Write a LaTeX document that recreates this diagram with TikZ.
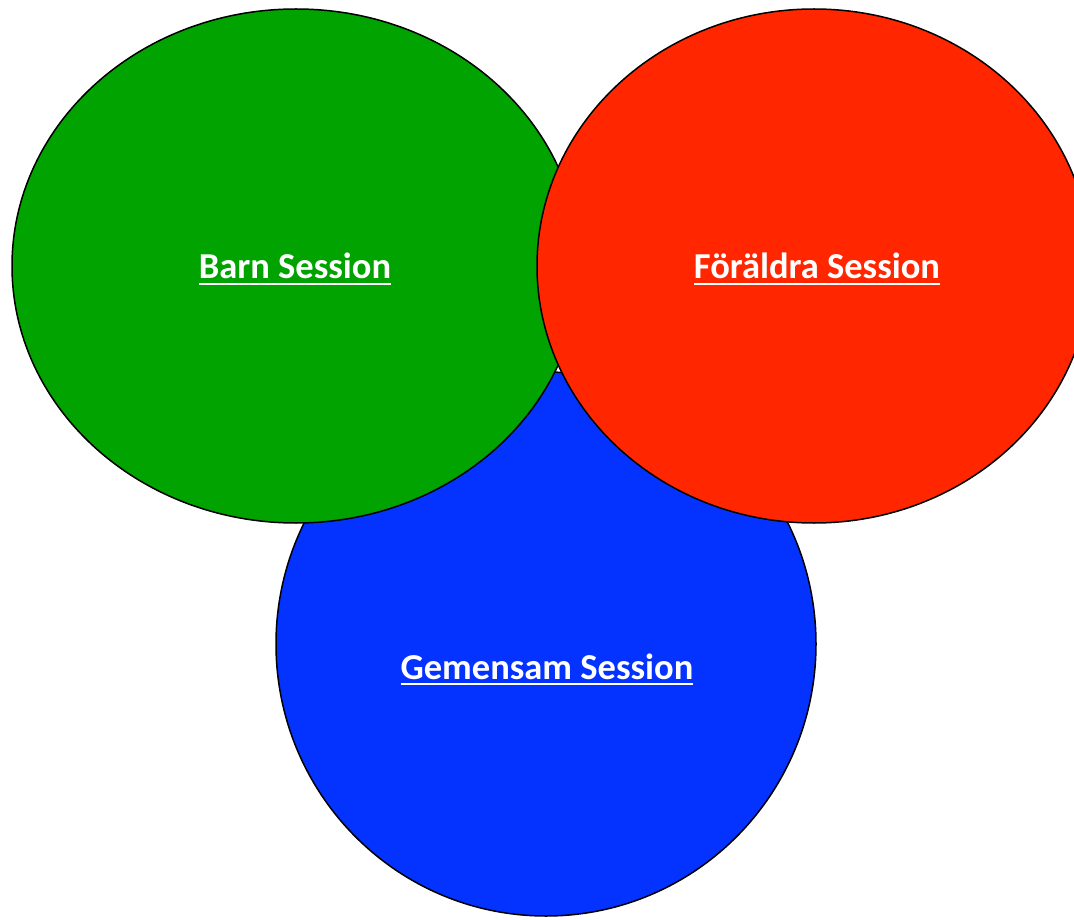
\documentclass[tikz,border=0pt]{standalone}
\usepackage{fontspec}
\setmainfont{Carlito}
\usepackage{tikz}
\usetikzlibrary{shapes.geometric}
\definecolor{barngreen}{RGB}{0,163,0}
\definecolor{foraldrared}{RGB}{255,38,0}
\definecolor{gemensamblue}{RGB}{4,51,255}
\newcommand{\undrln}[1]{\setbox0\hbox{#1}\rlap{\rule[-6.2pt]{\wd0}{2.6pt}}\box0}
\tikzset{
  sess/.style={ellipse, draw=black, line width=1.5pt, inner sep=0pt},
  sesstxt/.style={anchor=base, inner sep=0pt, text=white, font=\fontsize{36.5}{40}\selectfont\bfseries}
}
\begin{document}
\begin{tikzpicture}[x=1pt,y=-1pt]
\useasboundingbox (0,0) rectangle (1074,920);
\node[sess,fill=gemensamblue,minimum width=540pt,minimum height=544pt](gemensam) at (546,644){};
\node[sess,fill=barngreen,minimum width=568pt,minimum height=514pt](barn) at (296,266){};
\node[sess,fill=foraldrared,minimum width=554pt,minimum height=514pt](foraldra) at (814,266){};
\node[sesstxt](barntxt) at (295,279){\undrln{Barn Session}};
\node[sesstxt](foraldratxt) at (817,279){\undrln{Föräldra Session}};
\node[sesstxt](gemensamtxt) at (547,679){\undrln{Gemensam Session}};
\end{tikzpicture}
\end{document}
